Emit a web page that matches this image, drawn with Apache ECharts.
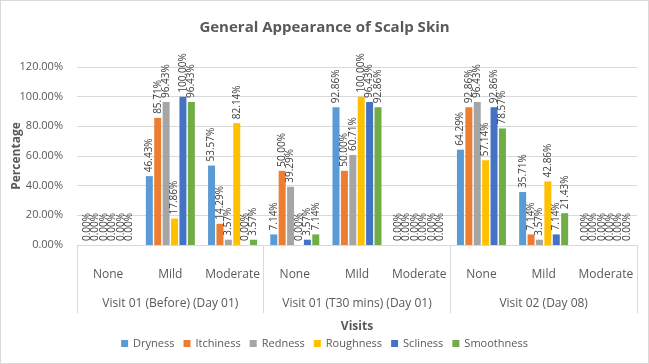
<!DOCTYPE html>
<html><head><meta charset="utf-8">
<script src="https://cdn.jsdelivr.net/npm/echarts@6/dist/echarts.min.js"></script>
<style>html,body{margin:0;padding:0;background:#fff}#c{width:647px;height:362px;border:1px solid #d9d9d9}</style>
</head><body><div id="c"></div>
<script>
const categories = ['None','Mild','Moderate','None','Mild','Moderate','None','Mild','Moderate'];
const groups = ['Visit 01 (Before) (Day 01)','Visit 01 (T30 mins) (Day 01)','Visit 02 (Day 08)'];
const seriesNames = ['Dryness','Itchiness','Redness','Roughness','Scliness','Smoothness'];
const dryness    = [0, 46.43, 53.57, 7.14, 92.86, 0, 64.29, 35.71, 0];
const itchiness  = [0, 85.71, 14.29, 50.00, 50.00, 0, 92.86, 7.14, 0];
const redness    = [0, 96.43, 3.57, 39.29, 60.71, 0, 96.43, 3.57, 0];
const roughness  = [0, 17.86, 82.14, 0, 100.00, 0, 57.14, 42.86, 0];
const scliness   = [0, 100.00, 0, 3.57, 96.43, 0, 92.86, 7.14, 0];
const smoothness = [0, 96.43, 3.57, 7.14, 92.86, 0, 78.57, 21.43, 0];
const yTicks = [0, 20, 40, 60, 80, 100, 120];

const values = [dryness, itchiness, redness, roughness, scliness, smoothness];
const colors = ['#5B9BD5','#ED7D31','#A5A5A5','#FFC000','#4472C4','#70AD47'];
const font = 'Open Sans, Liberation Sans, sans-serif';

const chart = echarts.init(document.getElementById('c'));
chart.setOption({
  animation: false,
  textStyle: {fontFamily: font},
  title: {text: 'General Appearance of Scalp Skin', left: 'center', top: 14,
    textStyle: {fontSize: 15, fontWeight: 'bold', color: '#595959', fontFamily: font}},
  grid: {left: 76, right: 11, top: 66, bottom: 118},
  legend: {bottom: 9, itemWidth: 7, itemHeight: 7, itemGap: 9, icon: 'rect',
    textStyle: {fontSize: 11, color: '#595959', fontFamily: font}, data: seriesNames},
  xAxis: [
    {type: 'category', data: categories, position: 'bottom',
     axisLine: {show: true, lineStyle: {color: '#d9d9d9'}}, axisTick: {show: false},
     axisLabel: {margin: 24, fontSize: 12, color: '#595959', interval: 0, hideOverlap: false},
     name: 'Visits', nameLocation: 'middle', nameGap: 76, nameMoveOverlap: false,
     nameTextStyle: {fontSize: 12, fontWeight: 'bold', color: '#595959'}},
    {type: 'category', data: groups, position: 'bottom',
     axisLine: {show: false}, axisTick: {show: true, length: 68, interval: 0, lineStyle: {color: '#d9d9d9'}},
     axisLabel: {margin: 53, fontSize: 12, color: '#595959', interval: 0, hideOverlap: false}}
  ],
  yAxis: {type: 'value', min: yTicks[0], max: yTicks[yTicks.length-1], interval: 20,
    name: 'Percentage', nameLocation: 'middle', nameGap: 54, nameMoveOverlap: false,
    nameTextStyle: {fontSize: 12, fontWeight: 'bold', color: '#595959'},
    axisLabel: {formatter: v => v.toFixed(2) + '%', fontSize: 11, color: '#595959', margin: 14},
    axisLine: {show: false}, axisTick: {show: false},
    splitLine: {lineStyle: {color: '#d9d9d9'}}},
  series: seriesNames.map((n, i) => ({
    name: n, type: 'bar', data: values[i], xAxisIndex: 0,
    itemStyle: {color: colors[i]}, barWidth: 7, barGap: '20%',
    label: {show: true, position: 'top', rotate: 90, align: 'left', verticalAlign: 'middle',
      distance: 4, fontSize: 10, color: '#404040', formatter: p => p.value.toFixed(2) + '%'},
    labelLayout: {hideOverlap: false}
  }))
});
</script></body></html>
